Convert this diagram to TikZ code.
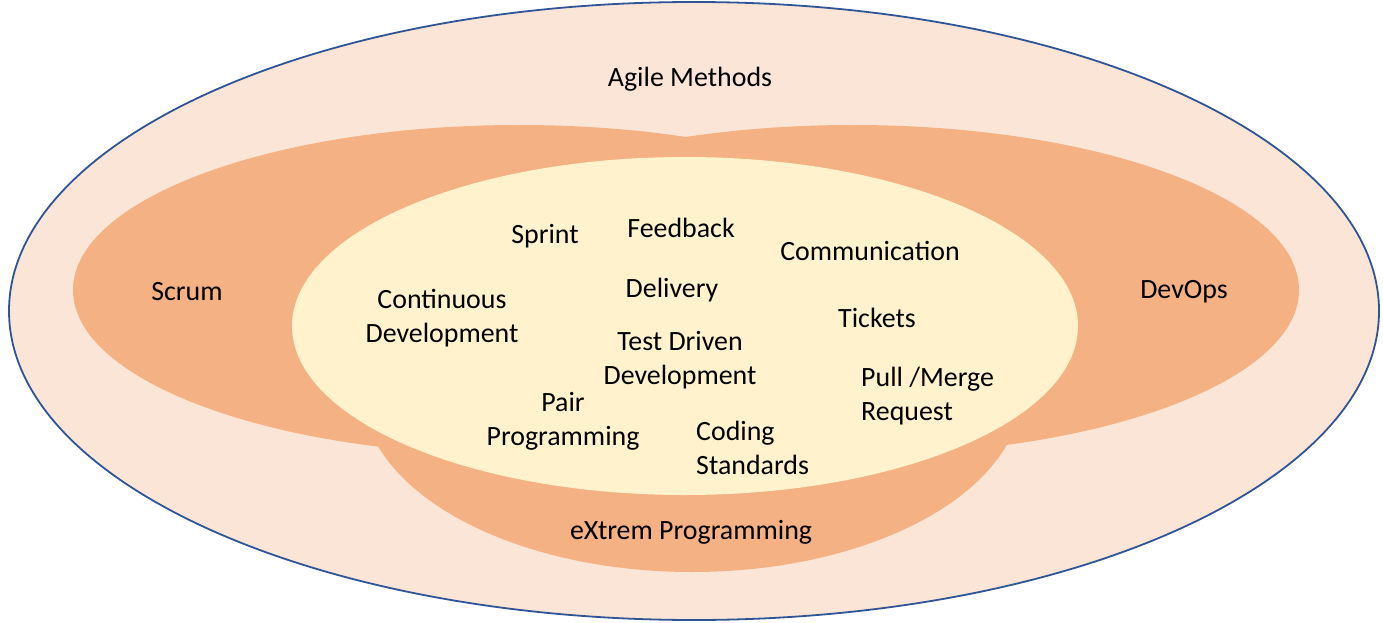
\documentclass[tikz,border=0pt]{standalone}
\usepackage{fontspec}
\setmainfont{Carlito}
\definecolor{outerfill}{HTML}{FBE5D6}
\definecolor{outerline}{HTML}{2F5597}
\definecolor{orangefill}{HTML}{F4B183}
\definecolor{innerfill}{HTML}{FFF2CC}
\begin{document}
\begin{tikzpicture}[x=1bp,y=-1bp,
  lbl/.style={font=\fontsize{28}{34}\selectfont, text=black, inner sep=0pt},
  lblc/.style={lbl, align=center},
  lbll/.style={lbl, align=left}]
\useasboundingbox (0,0) rectangle (1383,623);
% outer ellipse
\fill[outerfill] (694,311) ellipse [x radius=685, y radius=309];
\draw[outerline, line width=1.8bp] (694,311) ellipse [x radius=685, y radius=309];
% orange regions
\fill[orangefill] (519,290) ellipse [x radius=446, y radius=165];
\fill[orangefill] (853,290) ellipse [x radius=446, y radius=165];
\fill[orangefill] (692,390) ellipse [x radius=330, y radius=182];
% inner ellipse
\fill[innerfill] (685,326) ellipse [x radius=393, y radius=169];
% labels
\node[lbl] (agile) at (690,79) {Agile Methods};
\node[lbl] (scrum) at (187,292) {Scrum};
\node[lbl] (devops) at (1184,292) {DevOps};
\node[lbl] (xp) at (691,532) {eXtrem Programming};
\node[lbl] (sprint) at (545,236) {Sprint};
\node[lbl] (feedback) at (681,228) {Feedback};
\node[lbl] (comm) at (870,251) {Communication};
\node[lblc] (cd) at (442,318) {Continuous\\Development};
\node[lbl] (delivery) at (672,290) {Delivery};
\node[lbl] (tickets) at (877,318) {Tickets};
\node[lblc] (tdd) at (680,360) {Test Driven\\Development};
\node[lbll, anchor=west] (pr) at (861,396) {Pull /Merge\\Request};
\node[lblc] (pair) at (563,421) {Pair\\Programming};
\node[lbll, anchor=west] (coding) at (696,448) {Coding\\Standards};
\end{tikzpicture}
\end{document}
